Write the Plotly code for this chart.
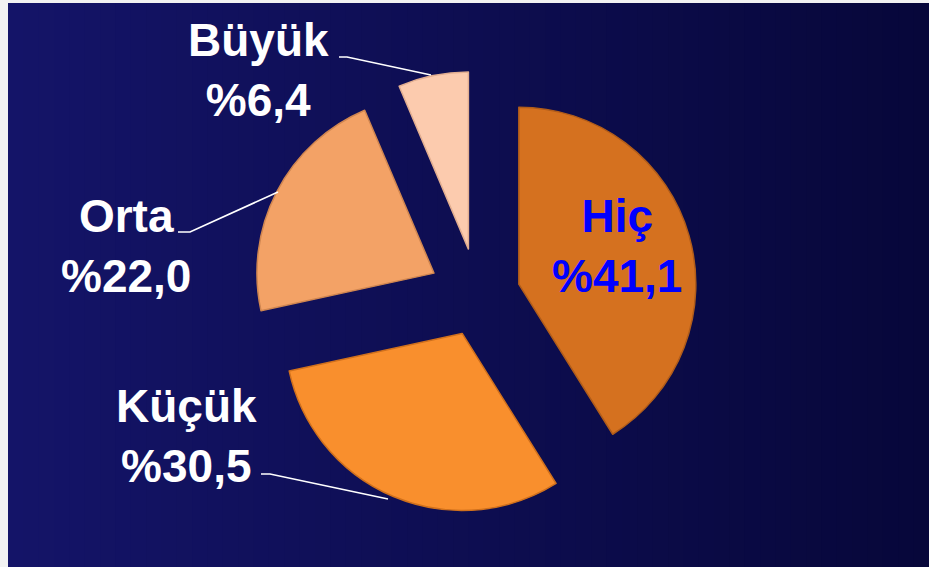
import plotly.graph_objects as go

# ---- data ----
labels = ["Hiç", "Küçük", "Orta", "Büyük"]
values = [41.1, 30.5, 22.0, 6.4]
value_text = ["%41,1", "%30,5", "%22,0", "%6,4"]
colors = ["#d5711f", "#f98f2d", "#f3a266", "#fccbae"]
edge_colors = ["#b05c1a", "#d0701c", "#d08650", "#e2ae90"]
pulls = [0.24, 0.23, 0.28, 0.27]

W, H = 929, 567

fig = go.Figure()

fig.add_trace(go.Pie(
    labels=labels, values=values, sort=False, direction="clockwise", rotation=0,
    pull=pulls, textinfo="none", hoverinfo="label+percent",
    marker=dict(colors=colors, line=dict(color=edge_colors, width=1.5)),
    domain=dict(x=[0.2706, 0.7584], y=[0.0783, 0.8779]),
    showlegend=False,
))

# invisible pixel-space axes for annotations / background
fig.add_trace(go.Scatter(x=[0, W], y=[0, H], mode="markers",
                         marker=dict(opacity=0), hoverinfo="skip", showlegend=False))

shapes = []
# gradient background (overlapping strips to avoid seams)
x0, x1 = 8, W
n = 60
c_left = (20, 20, 104)
c_right = (7, 7, 58)
for i in range(n):
    t = i / (n - 1)
    c = tuple(int(round(c_left[k] + (c_right[k] - c_left[k]) * t)) for k in range(3))
    xa = x0 + (x1 - x0) * i / n
    shapes.append(dict(type="rect", xref="x", yref="y", x0=xa, x1=W + 2, y0=3, y1=H + 2,
                       fillcolor="rgb(%d,%d,%d)" % c, line=dict(width=0), layer="below"))

# leader lines
leaders = [
    [(339, 57), (347, 57), (431, 75)],      # Büyük
    [(178, 232), (190, 232), (278, 192)],   # Orta
    [(261, 474), (270, 474), (388, 499)],   # Küçük
]
for pts in leaders:
    path = "M %f %f " % pts[0] + " ".join("L %f %f" % p for p in pts[1:])
    shapes.append(dict(type="path", xref="x", yref="y", path=path,
                       line=dict(color="white", width=1.6)))

font_base = dict(family="Liberation Sans, Arial, sans-serif", size=46)
annotations = []
label_pos = {"Hiç": (617, 246), "Küçük": (186, 436), "Orta": (126, 246), "Büyük": (258, 70)}
for lab, vt in zip(labels, value_text):
    x, y = label_pos[lab]
    col = "#0000ff" if lab == "Hiç" else "white"
    annotations.append(dict(x=x, y=y, xref="x", yref="y", showarrow=False,
                            text="<b>%s<br>%s</b>" % (lab, vt),
                            font=dict(color=col, **font_base), align="center"))

fig.update_layout(
    width=W, height=H, margin=dict(l=0, r=0, t=0, b=0),
    paper_bgcolor="#f2f2f2", plot_bgcolor="rgba(0,0,0,0)",
    xaxis=dict(range=[0, W], visible=False, fixedrange=True, domain=[0, 1]),
    yaxis=dict(range=[H, 0], visible=False, fixedrange=True, domain=[0, 1]),
    shapes=shapes, annotations=annotations,
)

fig.write_html("out.html", config={"displayModeBar": False},
               post_script="document.body.style.margin='0';document.body.style.overflow='hidden';")
